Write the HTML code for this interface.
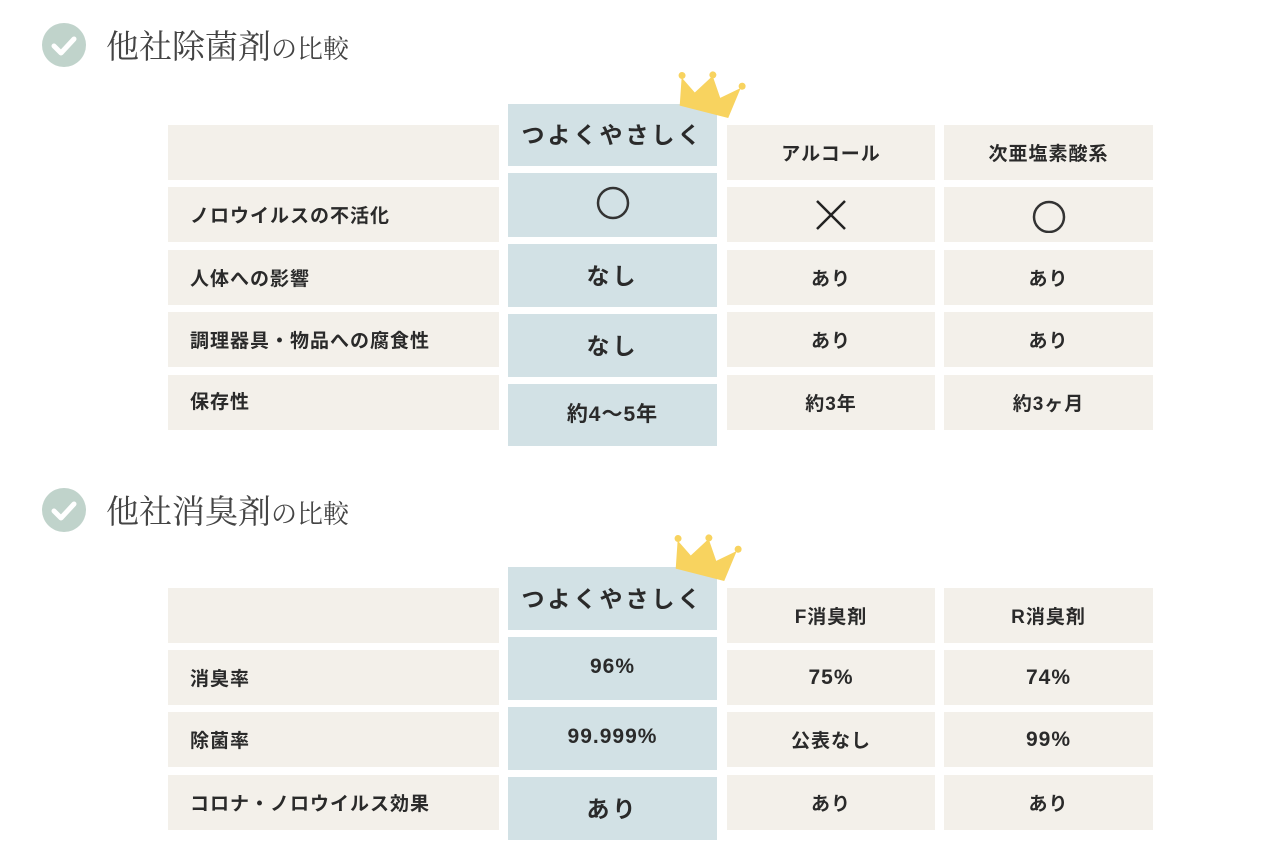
<!DOCTYPE html>
<html><head><meta charset="utf-8"><style>
body{margin:0;width:1280px;height:848px;background:#fff;position:relative;overflow:hidden;font-family:"Liberation Sans","Noto Sans CJK JP",sans-serif;color:#2a2a2a}
.c{position:absolute;display:flex;align-items:center;justify-content:center;font-weight:bold;font-size:19px;letter-spacing:1px}
.b{background:#f3f0ea}
.h{background:#d2e1e5;padding-bottom:4px;box-sizing:border-box}
.l{justify-content:flex-start;padding-left:22px;box-sizing:border-box}
.t{position:absolute;left:106px;font-family:"Noto Serif CJK SC","Liberation Serif",serif;font-size:33px;color:#444;letter-spacing:0px;line-height:40px}
.t small{font-size:26px}
.ic{position:absolute;left:42px;width:44px;height:44px;border-radius:50%;background:#c0d3cb}
.big{font-size:23px;letter-spacing:3px}
</style></head><body>
<div class="ic" style="top:23px"><svg width="44" height="44"><path d="M12 23 L19 30 L32 16" stroke="#fff" stroke-width="5" fill="none" stroke-linecap="round" stroke-linejoin="round"/></svg></div>
<div class="t" style="top:25px">他社除菌剤<small>の比較</small></div>
<div class="ic" style="top:488px"><svg width="44" height="44"><path d="M12 23 L19 30 L32 16" stroke="#fff" stroke-width="5" fill="none" stroke-linecap="round" stroke-linejoin="round"/></svg></div>
<div class="t" style="top:490px">他社消臭剤<small>の比較</small></div>

<!-- table 1 -->
<div class="c b" style="left:168px;top:125px;width:331px;height:55px"></div>
<div class="c h big" style="left:508px;top:104px;width:209px;height:62px">つよくやさしく</div>
<div class="c b" style="left:727px;top:125px;width:208px;height:55px">アルコール</div>
<div class="c b" style="left:944px;top:125px;width:209px;height:55px">次亜塩素酸系</div>

<div class="c b l" style="left:168px;top:187px;width:331px;height:55px">ノロウイルスの不活化</div>
<div class="c h" style="left:508px;top:173px;width:209px;height:64px"><svg width="36" height="36"><circle cx="18" cy="18" r="15" stroke="#333" stroke-width="2.5" fill="none"/></svg></div>
<div class="c b" style="left:727px;top:187px;width:208px;height:55px"><svg width="36" height="36"><path d="M4 4L32 32M32 4L4 32" stroke="#222" stroke-width="2.5"/></svg></div>
<div class="c b" style="left:944px;top:187px;width:209px;height:55px"><svg width="36" height="36"><circle cx="18" cy="20" r="15" stroke="#333" stroke-width="2.5" fill="none"/></svg></div>

<div class="c b l" style="left:168px;top:250px;width:331px;height:55px">人体への影響</div>
<div class="c h big" style="left:508px;top:244px;width:209px;height:63px">なし</div>
<div class="c b" style="left:727px;top:250px;width:208px;height:55px">あり</div>
<div class="c b" style="left:944px;top:250px;width:209px;height:55px">あり</div>

<div class="c b l" style="left:168px;top:312px;width:331px;height:55px">調理器具・物品への腐食性</div>
<div class="c h big" style="left:508px;top:314px;width:209px;height:63px">なし</div>
<div class="c b" style="left:727px;top:312px;width:208px;height:55px">あり</div>
<div class="c b" style="left:944px;top:312px;width:209px;height:55px">あり</div>

<div class="c b l" style="left:168px;top:375px;width:331px;height:55px;padding-bottom:4px">保存性</div>
<div class="c h" style="left:508px;top:384px;width:209px;height:62px;font-size:21px">約4〜5年</div>
<div class="c b" style="left:727px;top:375px;width:208px;height:55px">約3年</div>
<div class="c b" style="left:944px;top:375px;width:209px;height:55px">約3ヶ月</div>

<!-- table 2 -->
<div class="c b" style="left:168px;top:588px;width:331px;height:55px"></div>
<div class="c h big" style="left:508px;top:567px;width:209px;height:63px">つよくやさしく</div>
<div class="c b" style="left:727px;top:588px;width:208px;height:55px">F消臭剤</div>
<div class="c b" style="left:944px;top:588px;width:209px;height:55px">R消臭剤</div>

<div class="c b l" style="left:168px;top:650px;width:331px;height:55px">消臭率</div>
<div class="c h" style="left:508px;top:637px;width:209px;height:63px;font-size:21px">96%</div>
<div class="c b" style="left:727px;top:650px;width:208px;height:55px;font-size:21px">75%</div>
<div class="c b" style="left:944px;top:650px;width:209px;height:55px;font-size:21px">74%</div>

<div class="c b l" style="left:168px;top:712px;width:331px;height:55px">除菌率</div>
<div class="c h" style="left:508px;top:707px;width:209px;height:63px;font-size:21px">99.999%</div>
<div class="c b" style="left:727px;top:712px;width:208px;height:55px">公表なし</div>
<div class="c b" style="left:944px;top:712px;width:209px;height:55px;font-size:21px">99%</div>

<div class="c b l" style="left:168px;top:775px;width:331px;height:55px">コロナ・ノロウイルス効果</div>
<div class="c h big" style="left:508px;top:777px;width:209px;height:63px">あり</div>
<div class="c b" style="left:727px;top:775px;width:208px;height:55px">あり</div>
<div class="c b" style="left:944px;top:775px;width:209px;height:55px">あり</div>

<!-- crowns -->
<svg style="position:absolute;left:674px;top:70px" width="74" height="56" viewBox="0 0 74 56"><g transform="rotate(12 37 28)"><path d="M8 42 L4 14 L20 26 L34 6 L46 26 L64 12 L58 44 Z" fill="#f8d35f"/><circle cx="4" cy="12" r="3.5" fill="#f8d35f"/><circle cx="34" cy="5" r="3.5" fill="#f8d35f"/><circle cx="65" cy="10" r="3.5" fill="#f8d35f"/></g></svg>
<svg style="position:absolute;left:670px;top:533px" width="74" height="56" viewBox="0 0 74 56"><g transform="rotate(12 37 28)"><path d="M8 42 L4 14 L20 26 L34 6 L46 26 L64 12 L58 44 Z" fill="#f8d35f"/><circle cx="4" cy="12" r="3.5" fill="#f8d35f"/><circle cx="34" cy="5" r="3.5" fill="#f8d35f"/><circle cx="65" cy="10" r="3.5" fill="#f8d35f"/></g></svg>
</body></html>
